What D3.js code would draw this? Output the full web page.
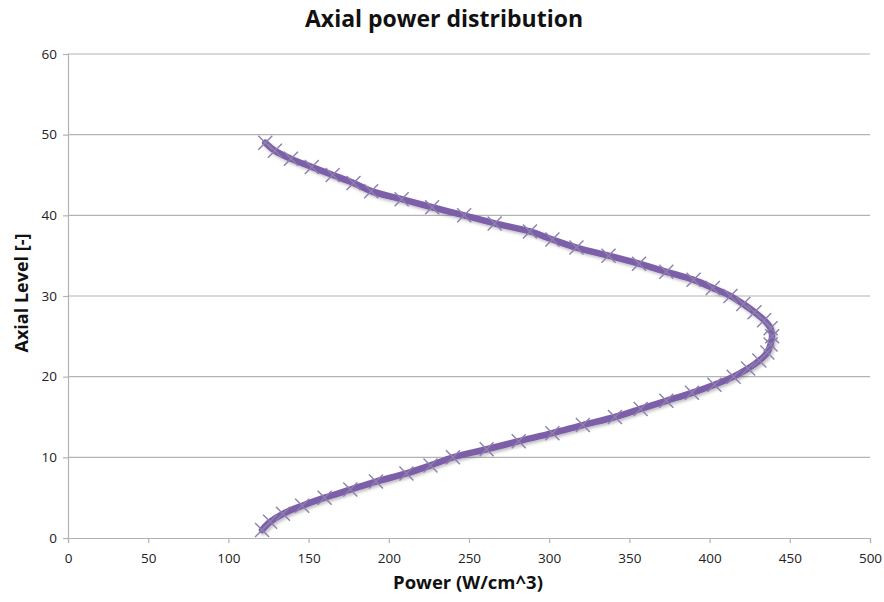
<!DOCTYPE html>
<html>
<head>
<meta charset="utf-8">
<script src="https://cdn.jsdelivr.net/npm/d3@7"></script>
<style>
  html, body { margin: 0; padding: 0; background: #fff; }
  svg { display: block; }
</style>
</head>
<body>
<svg id="chart" width="884" height="602"></svg>
<script>
// ---- data ----
const levels = d3.range(1, 50);
const power = [
  121, 126, 134, 146, 160, 176, 192, 211, 226, 240,
  261, 281, 302, 321, 341, 357, 373, 389, 403, 415,
  424, 431, 436, 438, 439, 438, 434, 428, 421, 413,
  402, 390, 373, 356, 337, 317, 302, 288, 266, 247,
  227, 208, 189, 178, 165, 152, 139, 129, 123
];
const xTicks = [0, 50, 100, 150, 200, 250, 300, 350, 400, 450, 500];
const yTicks = [0, 10, 20, 30, 40, 50, 60];
const titleText = "Axial power distribution";
const xLabel = "Power (W/cm^3)";
const yLabel = "Axial Level [-]";

// ---- layout ----
const svg = d3.select("#chart");
const mLeft = 68, mRight = 870, mTop = 54, mBottom = 538;
const x = d3.scaleLinear().domain([0, 500]).range([mLeft, mRight]);
const y = d3.scaleLinear().domain([0, 60]).range([mBottom, mTop]);
const font = "'Open Sans', 'Liberation Sans', sans-serif";
const gridColor = "#b3b3b3";

const defs = svg.append("defs");
const f = defs.append("filter").attr("id", "shadow")
  .attr("x", "-10%").attr("y", "-10%").attr("width", "120%").attr("height", "120%");
f.append("feDropShadow").attr("dx", 1.5).attr("dy", 2).attr("stdDeviation", 1.5)
  .attr("flood-color", "#000").attr("flood-opacity", 0.25);

// gridlines
svg.append("g").selectAll("line").data(yTicks.filter(d => d > 0)).join("line")
  .attr("x1", mLeft).attr("x2", mRight)
  .attr("y1", d => y(d)).attr("y2", d => y(d))
  .attr("stroke", gridColor).attr("stroke-width", 1.2);

// y axis
const yAxis = svg.append("g").attr("transform", `translate(${mLeft},0)`)
  .call(d3.axisLeft(y).tickValues(yTicks).tickSize(5).tickPadding(6));
// x axis
const xAxis = svg.append("g").attr("transform", `translate(0,${mBottom})`)
  .call(d3.axisBottom(x).tickValues(xTicks).tickSize(5).tickPadding(10));
[yAxis, xAxis].forEach(a => {
  a.select(".domain").attr("stroke", gridColor).attr("stroke-width", 1.2);
  a.selectAll(".tick line").attr("stroke", gridColor).attr("stroke-width", 1.2);
  a.selectAll(".tick text").attr("font-family", font).attr("font-size", 13.5).attr("fill", "#222");
});

// line
const pts = levels.map((l, i) => ({ l, p: power[i] }));
const line = d3.line().x(d => x(d.p)).y(d => y(d.l)).curve(d3.curveCatmullRom.alpha(0.5));
svg.append("path").datum(pts)
  .attr("d", line)
  .attr("fill", "none")
  .attr("stroke", "#7b5fa8")
  .attr("stroke-width", 6.5)
  .attr("stroke-linejoin", "round")
  .attr("stroke-linecap", "round")
  .attr("filter", "url(#shadow)");

// X markers
const s = 7;
svg.append("g").selectAll("path.m").data(pts).join("path")
  .attr("class", "m")
  .attr("d", d => {
    const cx = x(d.p), cy = y(d.l);
    return `M${cx - s},${cy - s}L${cx + s},${cy + s}M${cx - s},${cy + s}L${cx + s},${cy - s}`;
  })
  .attr("stroke", "#8e80ad")
  .attr("stroke-width", 1.4)
  .attr("fill", "none");

// title & labels
svg.append("text").attr("x", 444).attr("y", 27).attr("text-anchor", "middle")
  .attr("font-family", font).attr("font-weight", "bold").attr("font-size", 23)
  .attr("fill", "#111").text(titleText);
svg.append("text").attr("x", 468).attr("y", 589).attr("text-anchor", "middle")
  .attr("font-family", font).attr("font-weight", "bold").attr("font-size", 18.5)
  .attr("fill", "#111").text(xLabel);
svg.append("text").attr("transform", "translate(28,293) rotate(-90)").attr("text-anchor", "middle")
  .attr("font-family", font).attr("font-weight", "bold").attr("font-size", 18)
  .attr("fill", "#111").text(yLabel);
</script>
</body>
</html>
